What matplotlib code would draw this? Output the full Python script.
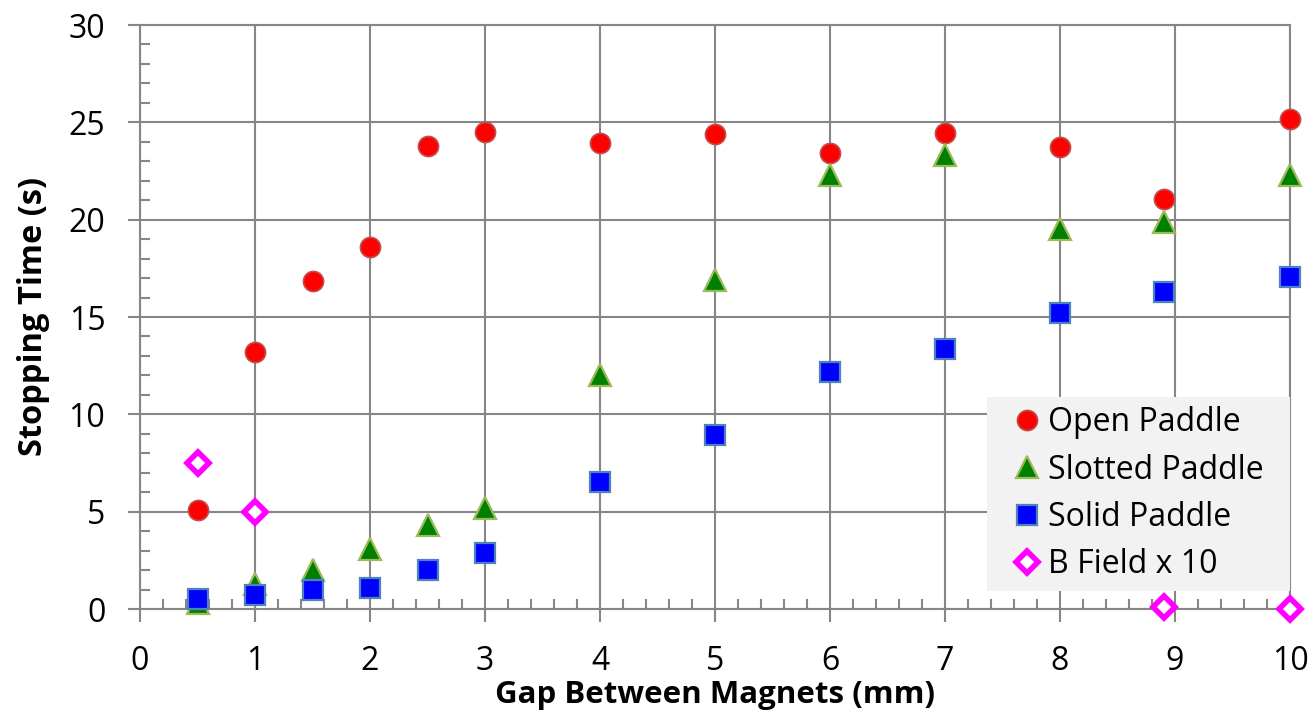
import matplotlib
matplotlib.use("Agg")
import matplotlib.pyplot as plt
from matplotlib.ticker import MultipleLocator

plt.rcParams['font.family'] = ['Open Sans', 'DejaVu Sans']

gap = [0.5, 1, 1.5, 2, 2.5, 3, 4, 5, 6, 7, 8, 8.9, 10]
open_paddle = [5.1, 13.2, 16.85, 18.6, 23.8, 24.5, 23.95, 24.4, 23.45, 24.45, 23.75, 21.05, 25.15]
slotted_paddle = [0.3, 1.3, 2.0, 3.1, 4.3, 5.2, 12.0, 16.9, 22.3, 23.3, 19.5, 19.9, 22.3]
solid_paddle = [0.5, 0.7, 1.0, 1.1, 2.0, 2.9, 6.5, 8.95, 12.2, 13.35, 15.2, 16.3, 17.05]
bfield_gap = [0.5, 1, 8.9, 10]
bfield_x10 = [7.5, 5.0, 0.1, 0.0]

fig = plt.figure(figsize=(13.15, 7.11), dpi=100)
ax = fig.add_axes([140/1315, 1-609/711, 1150/1315, 584/711])

grid_c = '#868686'
ax.plot(gap, open_paddle, 'o', ms=14.5, mfc='#FF0000', mec='#C0504D', mew=1.2,
        label='Open Paddle', clip_on=False, zorder=3)
ax.plot(gap, slotted_paddle, '^', ms=16, mfc='#008000', mec='#9BBB59', mew=1.6,
        label='Slotted Paddle', clip_on=False, zorder=3)
ax.plot(gap, solid_paddle, 's', ms=14, mfc='#0000FF', mec='#4F81BD', mew=1.6,
        label='Solid Paddle', clip_on=False, zorder=4)
ax.plot(bfield_gap, bfield_x10, 'D', ms=11.5, mfc='white', mec='#FF00FF', mew=4,
        label='B Field x 10', clip_on=False, zorder=5)

ax.set_xlim(0, 10)
ax.set_ylim(0, 30)
ax.xaxis.set_major_locator(MultipleLocator(1))
ax.xaxis.set_minor_locator(MultipleLocator(0.2))
ax.yaxis.set_major_locator(MultipleLocator(5))
ax.yaxis.set_minor_locator(MultipleLocator(1))

ax.grid(True, which='major', color=grid_c, lw=1.5, zorder=0)
ax.set_axisbelow(True)
for s in ax.spines.values():
    s.set_color(grid_c)
    s.set_linewidth(1.5)

ax.tick_params(which='major', direction='out', length=9, width=1.5, color=grid_c,
               labelsize=23, pad=16)
ax.tick_params(which='minor', direction='in', length=7, width=1.5, color=grid_c)
ax.tick_params(axis='x', which='major', pad=17)

ax.set_xlabel('Gap Between Magnets (mm)', fontsize=22.5, fontweight='bold', labelpad=1)
ax.set_ylabel('Stopping Time (s)', fontsize=23.5, fontweight='bold', labelpad=13)

leg = ax.legend(loc='lower left', bbox_to_anchor=(0.7365, 0.031, 0.2635, 0.3), mode='expand',
                fontsize=23, frameon=True, fancybox=False, facecolor='#F2F2F2',
                edgecolor='none', framealpha=1, handletextpad=-0.3, borderpad=0.3,
                labelspacing=0.45, handlelength=1.9, markerscale=1.0, borderaxespad=0)
leg.set_zorder(6)

fig.savefig('out.png', dpi=100)
